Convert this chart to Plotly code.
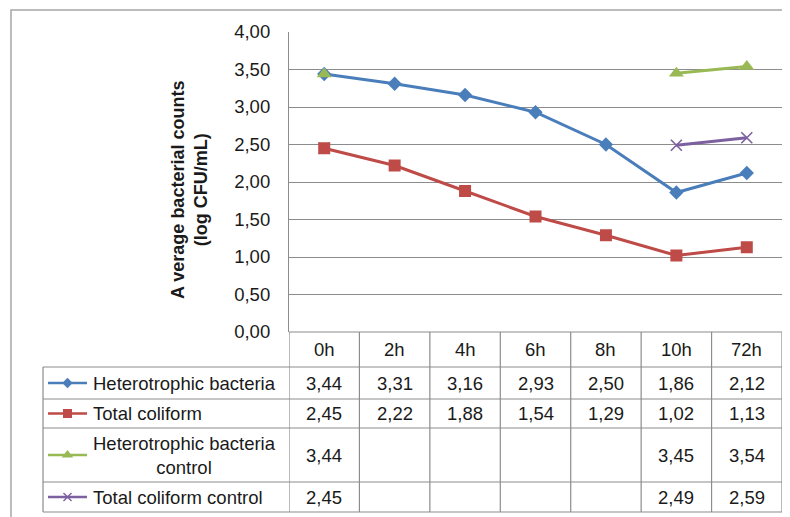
import plotly.graph_objects as go

# ---------------- data ----------------
categories = ["0h", "2h", "4h", "6h", "8h", "10h", "72h"]
series_names = [
    "Heterotrophic bacteria",
    "Total coliform",
    "Heterotrophic bacteria<br>control",
    "Total coliform control",
]
hetero = [3.44, 3.31, 3.16, 2.93, 2.50, 1.86, 2.12]
coliform = [2.45, 2.22, 1.88, 1.54, 1.29, 1.02, 1.13]
hetero_ctrl = [3.44, None, None, None, None, 3.45, 3.54]
coliform_ctrl = [2.45, None, None, None, None, 2.49, 2.59]
y_ticks = [0.0, 0.5, 1.0, 1.5, 2.0, 2.5, 3.0, 3.5, 4.0]

# ---------------- styling / layout ----------------
OFF = 8                      # page body margin of the html page
W, H = 790 - OFF, 517 - OFF  # figure size so that it fills the window


def fx(p):
    """reference pixel x -> paper fraction"""
    return (p - OFF) / W


def fy(p):
    """reference pixel y -> paper fraction"""
    return 1 - (p - OFF) / H


PX0, PX1 = 289, 782        # plot area horizontal pixels (reference)
PY_TOP, PY_BOT = 32, 332   # plot area vertical pixels (reference)
TABLE_LEFT = 43
row_edges = [332, 367, 399, 428, 482, 512]  # header + 4 rows
KEY_X0, KEY_X1, LABEL_X = 48, 87, 91

colors = ["#4A7EBB", "#BE4B48", "#98B954", "#7D60A0"]
symbols = ["diamond", "square", "triangle-up", "x-thin"]
msize = [11, 12, 13, 11]
grid_col = "#8C8C8C"
txt_col = "#1A1A1A"
FONT = "Liberation Sans, Arial, sans-serif"

values = [hetero, coliform, hetero_ctrl, coliform_ctrl]

fig = go.Figure()

# draw order: purple, blue, red, green (green over blue, red over purple)
order = [3, 0, 1, 2]
for i in order:
    mk = dict(symbol=symbols[i], size=msize[i], color=colors[i])
    if symbols[i] == "x-thin":
        mk["line"] = dict(color=colors[i], width=1.6)
    fig.add_trace(go.Scatter(
        x=categories, y=values[i], mode="lines+markers",
        line=dict(color=colors[i], width=3),
        marker=mk, connectgaps=False, showlegend=False,
        name=series_names[i].replace("<br>", " "),
        xaxis="x", yaxis="y",
    ))

# legend keys inside the data table (reference-pixel overlay axes)
for i in range(4):
    yc = (row_edges[i + 1] + row_edges[i + 2]) / 2
    fig.add_trace(go.Scatter(
        x=[KEY_X0, KEY_X1], y=[yc, yc], mode="lines",
        line=dict(color=colors[i], width=2.5),
        showlegend=False, hoverinfo="skip", xaxis="x2", yaxis="y2",
    ))
    mk = dict(symbol=symbols[i], size=msize[i] - 3, color=colors[i])
    if symbols[i] == "x-thin":
        mk["line"] = dict(color=colors[i], width=1.4)
    fig.add_trace(go.Scatter(
        x=[(KEY_X0 + KEY_X1) / 2], y=[yc], mode="markers", marker=mk,
        showlegend=False, hoverinfo="skip", xaxis="x2", yaxis="y2",
    ))

shapes = []
# outer chart frame
shapes.append(dict(type="rect", xref="paper", yref="paper",
                   x0=fx(11), x1=fx(800), y0=fy(530), y1=fy(10),
                   line=dict(color="#A6A6A6", width=1.5)))
# table horizontal lines
shapes.append(dict(type="line", xref="paper", yref="paper",
                   x0=fx(PX0), x1=fx(PX1), y0=fy(row_edges[0]), y1=fy(row_edges[0]),
                   line=dict(color=grid_col, width=1.2)))
for e in row_edges[1:]:
    shapes.append(dict(type="line", xref="paper", yref="paper",
                       x0=fx(TABLE_LEFT), x1=fx(PX1), y0=fy(e), y1=fy(e),
                       line=dict(color=grid_col, width=1.2)))
# table left border
shapes.append(dict(type="line", xref="paper", yref="paper",
                   x0=fx(TABLE_LEFT), x1=fx(TABLE_LEFT),
                   y0=fy(row_edges[1]), y1=fy(row_edges[-1]),
                   line=dict(color=grid_col, width=1.2)))
# table vertical lines at category boundaries
for k in range(len(categories) + 1):
    shapes.append(dict(type="line", xref="x", yref="paper",
                       x0=k - 0.5, x1=k - 0.5,
                       y0=fy(row_edges[-1]), y1=fy(row_edges[0]),
                       line=dict(color=grid_col, width=1.2)))

annotations = []
TFS = 18.5
# header labels
hy = fy((row_edges[0] + row_edges[1]) / 2)
for c in categories:
    annotations.append(dict(x=c, y=hy, xref="x", yref="paper", text=c,
                            xanchor="center", yanchor="middle",
                            showarrow=False, font=dict(size=TFS, color=txt_col, family=FONT)))
# rows
for i in range(4):
    ry = fy((row_edges[i + 1] + row_edges[i + 2]) / 2)
    annotations.append(dict(x=fx(LABEL_X), y=ry, xref="paper", yref="paper",
                            text=series_names[i], showarrow=False,
                            xanchor="left", yanchor="middle", align="center",
                            font=dict(size=TFS, color=txt_col, family=FONT)))
    for c, v in zip(categories, values[i]):
        if v is None:
            continue
        annotations.append(dict(x=c, y=ry, xref="x", yref="paper",
                                text=f"{v:.2f}".replace(".", ","), showarrow=False,
                                xanchor="center", yanchor="middle",
                                font=dict(size=TFS, color=txt_col, family=FONT)))
# y-axis title
annotations.append(dict(x=fx(189), y=fy(190), xref="paper", yref="paper",
                        text="<b>A verage bacterial counts<br>(log CFU/mL)</b>",
                        textangle=-90, showarrow=False, align="center",
                        xanchor="center", yanchor="middle",
                        font=dict(size=18, color=txt_col, family=FONT)))

fig.update_layout(
    template="none",
    width=W, height=H, autosize=False,
    margin=dict(l=0, r=0, t=0, b=0, pad=0, autoexpand=False),
    paper_bgcolor="white", plot_bgcolor="rgba(0,0,0,0)",
    separators=",.",
    showlegend=False,
    font=dict(family=FONT, color=txt_col),
    xaxis=dict(domain=[fx(PX0), fx(PX1)], type="category",
               categoryorder="array", categoryarray=categories,
               range=[-0.5, len(categories) - 0.5], automargin=False,
               showticklabels=False, showgrid=False, zeroline=False,
               showline=False, anchor="y"),
    yaxis=dict(domain=[fy(PY_BOT), fy(PY_TOP)], range=[0, 4], automargin=False,
               tickvals=y_ticks, tickformat=".2f",
               showgrid=True, gridcolor=grid_col, gridwidth=1.2,
               zeroline=False, showline=True, linecolor=grid_col, linewidth=1.2,
               ticks="", ticklabelstandoff=14,
               tickfont=dict(size=18.5, color=txt_col, family=FONT), anchor="x"),
    # overlay axes in reference-pixel units for the legend keys of the table
    xaxis2=dict(domain=[0, 1], range=[OFF, OFF + W], visible=False, anchor="y2",
                fixedrange=True, automargin=False),
    yaxis2=dict(domain=[0, 1], range=[OFF + H, OFF], visible=False, anchor="x2",
                fixedrange=True, automargin=False),
    shapes=shapes,
    annotations=annotations,
)

fig.write_html("out.html")
